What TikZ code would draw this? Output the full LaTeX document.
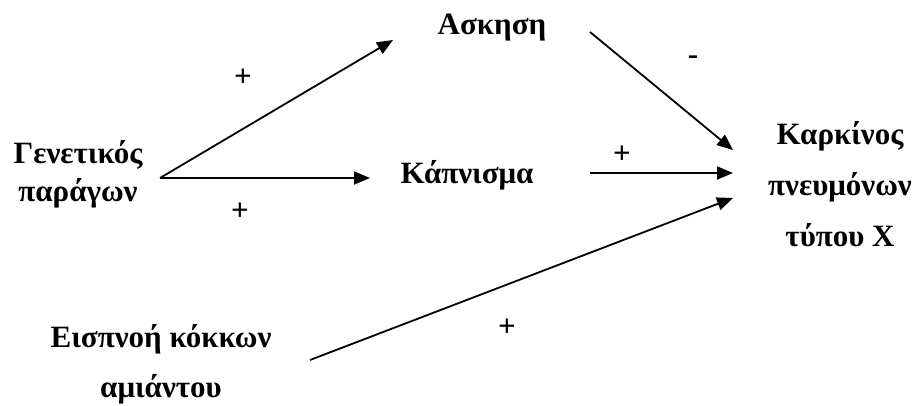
\documentclass[tikz,border=0pt]{standalone}
\usepackage{fontspec}
\setmainfont{Liberation Serif}
\usetikzlibrary{arrows.meta,positioning}

\begin{document}
\begin{tikzpicture}[x=1pt,y=-1pt]
\tikzset{
  factor/.style={align=center,inner sep=0pt,font=\bfseries\fontsize{31}{38}\selectfont},
  causal/.style={-{Triangle[length=16pt,width=13pt]},line width=1.8pt},
  sign/.style={inner sep=0pt,font=\bfseries\fontsize{31}{31}\selectfont}
}
\useasboundingbox (0,0) rectangle (920,405);
\node[factor] (n_gen) at (78,174) {Γενετικός\\παράγων};
\node[factor] (n_ask) at (492,28) {Ασκηση};
\node[factor] (n_kap) at (467,175) {Κάπνισμα};
\node[factor,font=\bfseries\fontsize{31}{51}\selectfont] (n_kark) at (840,184) {Καρκίνος\\πνευμόνων\\τύπου X};
\node[factor,font=\bfseries\fontsize{31}{50}\selectfont] (n_eis) at (161,364) {Εισπνοή κόκκων\\αμιάντου};
\draw[causal] ([shift={(82,4)}]n_gen.center) -- ([shift={(-99,12)}]n_ask.center);
\draw[causal] ([shift={(82,4)}]n_gen.center) -- ([shift={(-97,3)}]n_kap.center);
\draw[causal] ([shift={(98,4)}]n_ask.center) -- ([shift={(-107,-34)}]n_kark.center);
\draw[causal] ([shift={(123,-2)}]n_kap.center) -- ([shift={(-107,-11)}]n_kark.center);
\draw[causal] ([shift={(149,-4)}]n_eis.center) -- ([shift={(-107,14)}]n_kark.center);
\node[sign] (s_genask) at (243,78) {+};
\node[sign] (s_genkap) at (240,212) {+};
\node[sign] (s_askkark) at (693,60) {-};
\node[sign] (s_kapkark) at (622,155) {+};
\node[sign] (s_eiskark) at (507,328) {+};
\end{tikzpicture}
\end{document}
